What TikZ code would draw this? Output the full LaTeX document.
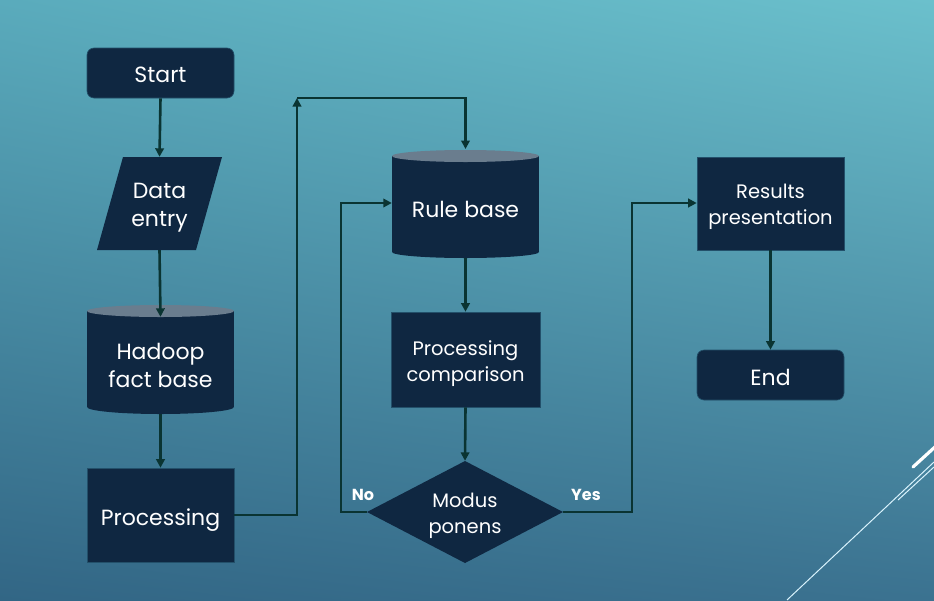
\documentclass[tikz,border=0pt]{standalone}
\usepackage{fontspec}
\setmainfont{Poppins}
\usetikzlibrary{shapes.geometric,arrows.meta,shadings}
\definecolor{nodefill}{HTML}{0F2741}
\definecolor{nodeedge}{HTML}{23506A}
\definecolor{cyltop}{HTML}{6A7D8E}
\definecolor{conn}{HTML}{0A3432}
\definecolor{bgUL}{HTML}{5AABBC}
\definecolor{bgUR}{HTML}{6BC0CC}
\definecolor{bgLL}{HTML}{326685}
\definecolor{bgLR}{HTML}{3B7290}
\newcommand\dropby[2]{\raisebox{-#1}[\height][\depth]{#2}}
\tikzset{
  box/.style={rectangle, fill=nodefill, draw=nodeedge, line width=0.6pt, text=white, align=center, inner sep=0pt},
  term/.style={box, rounded corners=7pt},
  txt/.style={rectangle, text=white, align=center, inner sep=0pt},
  big/.style={font=\fontsize{22}{28}\selectfont},
  small/.style={font=\fontsize{19.5}{26}\selectfont},
  arr/.style={draw=conn, line width=2.6pt, -{Triangle[length=8.5pt,width=8.5pt]}},
  lab/.style={text=white, font=\fontsize{16}{18}\selectfont\bfseries},
  deco/.style={draw=white!85!cyan, line width=1pt}
}
\begin{document}
\begin{tikzpicture}[x=1pt,y=-1pt]
\shade[upper left=bgUL, upper right=bgUR, lower left=bgLL, lower right=bgLR] (0,0) rectangle (934,600);
\useasboundingbox (0,0) rectangle (934,600);

% decorative lines
\draw[deco] (787,600) -- (934,462);
\draw[deco] (898,500) -- (934,467);
\draw[draw=white, line width=3.2pt, line cap=round] (913,467) -- (936,446);

% Start
\node[term, big, minimum width=147pt, minimum height=50pt] (start) at (160.5,73) {\dropby{1.5pt}{Start}};

% Data entry (parallelogram)
\fill[nodefill] (123,157) -- (222,157) -- (196,250) -- (97,250) -- cycle;
\node[txt, big, minimum width=99pt, minimum height=93pt] (data) at (159.5,203.5) {\dropby{4pt}{Data}\\\dropby{4pt}{entry}};

% Hadoop fact base (cylinder)
\fill[nodefill] (87,311) rectangle (234,407);
\fill[nodefill] (160.5,407) ellipse [x radius=73.5, y radius=7];
\fill[cyltop] (160.5,311) ellipse [x radius=73.5, y radius=6];
\node[txt, big, minimum width=147pt, minimum height=97pt] (hadoop) at (160.5,365.5) {Hadoop\\fact base};

% Processing
\node[box, big, minimum width=147pt, minimum height=94pt] (proc) at (160.5,515) {\dropby{5pt}{Processing}};

% Rule base (cylinder)
\fill[nodefill] (392,156) rectangle (539,252);
\fill[nodefill] (465.5,252) ellipse [x radius=73.5, y radius=6];
\fill[cyltop] (465.5,156) ellipse [x radius=73.5, y radius=6];
\node[txt, big, minimum width=147pt, minimum height=96pt] (rule) at (465.5,210) {\dropby{-1pt}{Rule base}};
\coordinate (ruletop) at (465.5,149);

% Processing comparison
\node[box, small, minimum width=149pt, minimum height=95pt] (comp) at (465.5,359.5) {\dropby{4pt}{Processing}\\\dropby{4pt}{comparison}};

% Modus ponens (diamond)
\fill[nodefill] (465,461) -- (563,512) -- (465,563) -- (367,512) -- cycle;
\node[txt, small, minimum width=196pt, minimum height=102pt] (dia) at (465,512) {\dropby{3.5pt}{Modus}\\\dropby{3.5pt}{ponens}};

% Results presentation
\node[box, small, minimum width=147pt, minimum height=93pt] (res) at (770.5,203.5) {\dropby{3pt}{Results}\\\dropby{3pt}{presentation}};

% End
\node[term, big, minimum width=147pt, minimum height=50pt] (end) at (770.5,375) {\dropby{2pt}{End}};

% connectors
\coordinate (c1) at (297,98);
\coordinate (c2) at (341,203);
\coordinate (c3) at (632,203);
\draw[arr] (start.south) -- (data.north);
\draw[arr] (data.south) -- (hadoop.north);
\draw[arr] (hadoop.south) -- (proc.north);
\draw[arr] (proc.east) -| (c1);
\draw[arr] (c1) -| (ruletop);
\draw[arr] (rule.south) -- (comp.north);
\draw[arr] (comp.south) -- (dia.north);
\draw[arr] (dia.west) -| (c2) -- (rule.west |- c2);
\draw[arr] (dia.east) -| (c3) -- (res.west |- c3);
\draw[arr] (res.south) -- (end.north);

% labels
\node[lab] (no) at (363,495) {No};
\node[lab] (yes) at (586,495) {Yes};
\end{tikzpicture}
\end{document}
